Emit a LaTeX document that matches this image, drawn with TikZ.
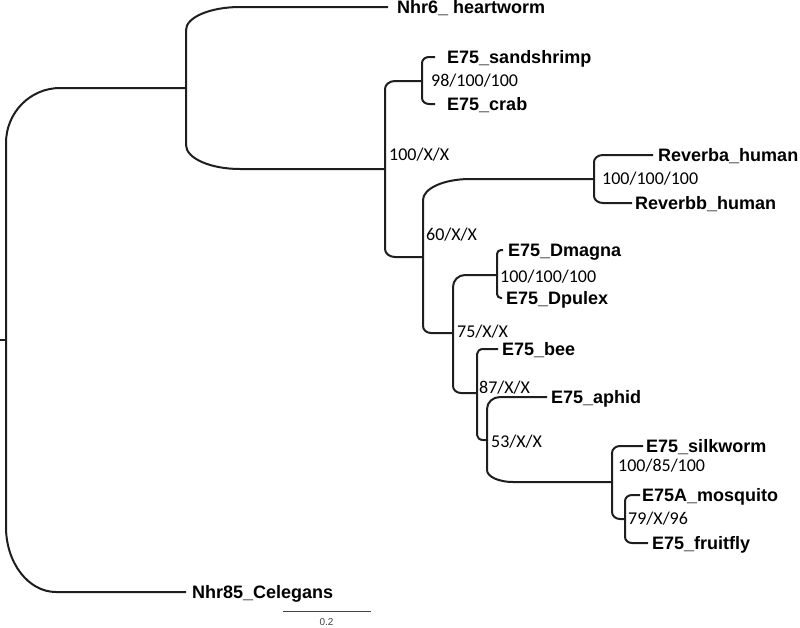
\documentclass[tikz,border=0pt]{standalone}
\usepackage{fontspec}
\usetikzlibrary{calc}
\newfontfamily\leaffont{Liberation Sans}
\newfontfamily\suppfont{Carlito}
\newfontfamily\scalefont{Liberation Sans}
\definecolor{branchcol}{HTML}{1E1E1E}
\definecolor{scalecol}{HTML}{444444}
\tikzset{
  branch/.style={draw=branchcol, line width=2pt},
  leaf/.style={anchor=west, inner ysep=0pt, text height=12.9pt, text depth=0pt,
    font=\leaffont\bfseries\fontsize{18}{20}\selectfont, text=black},
  supp/.style={anchor=west, inner sep=0pt, text height=11.5pt, text depth=0pt,
    font=\suppfont\fontsize{18}{20}\selectfont, text=black},
  br/.style 2 args={to path={-- ($(\tikztostart |- \tikztotarget)+(0,{#2})$)
    .. controls ($(\tikztostart |- \tikztotarget)+(0,{0.448*(#2)})$)
    and ($(\tikztostart |- \tikztotarget)+({0.448*(#1)},0)$)
    .. ($(\tikztostart |- \tikztotarget)+({#1},0)$) -- (\tikztotarget)}},
}
\begin{document}
\begin{tikzpicture}[x=1pt,y=-1pt]
\useasboundingbox (0,0) rectangle (800,627);

% internal nodes
\coordinate (root) at (6,340);
\coordinate (stub) at (0,340);
\coordinate (nA) at (186,88);
\coordinate (nB) at (385,169);
\coordinate (nC) at (422,81);
\coordinate (nD) at (423,257);
\coordinate (nE) at (594,179);
\coordinate (nF) at (453,333);
\coordinate (nG) at (497,275);
\coordinate (nH) at (477,393);
\coordinate (nI) at (487,440);
\coordinate (nJ) at (612,482);
\coordinate (nK) at (625,519);

% leaves
\node[leaf, inner xsep=9pt] (heartworm) at (388,7) {Nhr6\_ heartworm};
\node[leaf, inner xsep=12pt] (sandshrimp) at (435,57) {E75\_sandshrimp};
\node[leaf, inner xsep=12pt] (crab) at (435,104) {E75\_crab};
\node[leaf, inner xsep=5pt] (reverba) at (653,155) {Reverba\_human};
\node[leaf, inner xsep=3pt] (reverbb) at (632,203) {Reverbb\_human};
\node[leaf, inner xsep=5pt] (dmagna) at (503,250) {E75\_Dmagna};
\node[leaf, inner xsep=4pt] (dpulex) at (502,298) {E75\_Dpulex};
\node[leaf, inner xsep=4pt] (bee) at (498,349) {E75\_bee};
\node[leaf, inner xsep=4pt] (aphid) at (547,397) {E75\_aphid};
\node[leaf, inner xsep=3pt] (silkworm) at (643,446) {E75\_silkworm};
\node[leaf, inner xsep=2pt] (mosquito) at (640,495) {E75A\_mosquito};
\node[leaf, inner xsep=4pt] (fruitfly) at (648,543) {E75\_fruitfly};
\node[leaf, inner xsep=6pt] (celegans) at (186,592) {Nhr85\_Celegans};

% branches
\draw[branch] (stub) -- (root);
\draw[branch] (root) to[br={54}{55}] (nA);
\draw[branch] (root) to[br={50}{-65}] (celegans);
\draw[branch] (nA) to[br={54}{23}] (heartworm);
\draw[branch] (nA) to[br={54}{-24}] (nB);
\draw[branch] (nB) to[br={10}{8}] (nC);
\draw[branch] (nB) to[br={10}{-8}] (nD);
\draw[branch] (nC) to[br={7}{6}] (sandshrimp);
\draw[branch] (nC) to[br={7}{-6}] (crab);
\draw[branch] (nD) to[br={47}{21}] (nE);
\draw[branch] (nD) to[br={8}{-7}] (nF);
\draw[branch] (nE) to[br={9}{7}] (reverba);
\draw[branch] (nE) to[br={9}{-7}] (reverbb);
\draw[branch] (nF) to[br={12}{12}] (nG);
\draw[branch] (nF) to[br={8}{-7}] (nH);
\draw[branch] (nG) to[br={4}{4}] (dmagna);
\draw[branch] (nG) to[br={4}{-4}] (dpulex);
\draw[branch] (nH) to[br={6}{5}] (bee);
\draw[branch] (nH) to[br={6}{-5}] (nI);
\draw[branch] (nI) to[br={13}{12}] (aphid);
\draw[branch] (nI) to[br={26}{-12}] (nJ);
\draw[branch] (nJ) to[br={8}{7}] (silkworm);
\draw[branch] (nJ) to[br={8}{-7}] (nK);
\draw[branch] (nK) to[br={7}{6}] (mosquito);
\draw[branch] (nK) to[br={7}{-6}] (fruitfly);

% support values
\node[supp] (sC) at (431,81) {98/100/100};
\node[supp] (sB) at (389,155) {100/X/X};
\node[supp] (sE) at (602,179) {100/100/100};
\node[supp] (sD) at (426,235) {60/X/X};
\node[supp] (sG) at (500,277) {100/100/100};
\node[supp] (sF) at (457,332) {75/X/X};
\node[supp] (sH) at (479,388) {87/X/X};
\node[supp] (sI) at (491,442) {53/X/X};
\node[supp] (sJ) at (618,466) {100/85/100};
\node[supp] (sK) at (628,519) {79/X/96};

% scale bar
\coordinate (sb1) at (283,611);
\coordinate (sb2) at (371,611);
\draw[draw=scalecol, line width=1pt] (sb1) -- (sb2);
\node[font=\scalefont\fontsize{10}{11}\selectfont, text=scalecol, inner sep=0pt, text height=7.2pt, text depth=0pt] (sblabel) at (326.5,621.5) {0.2};
\end{tikzpicture}
\end{document}
